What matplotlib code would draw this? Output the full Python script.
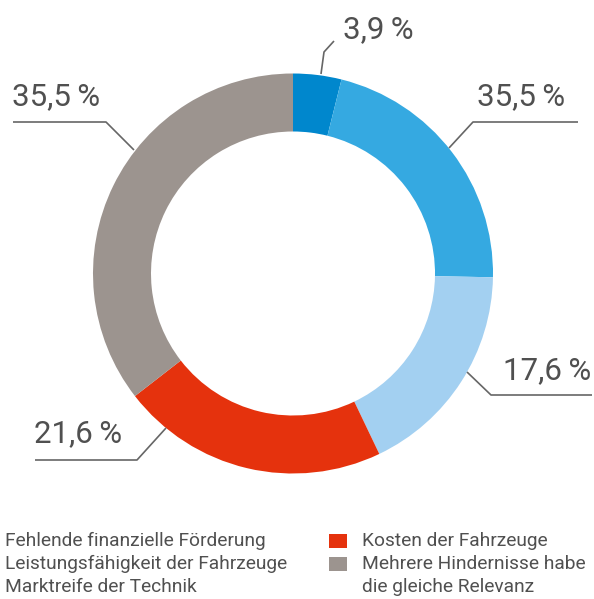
import matplotlib.pyplot as plt
from matplotlib.patches import Rectangle

# slice shares as drawn (clockwise from top) and the printed labels
shares = [3.9, 21.4, 17.6, 21.6, 35.5]
labels = ['3,9\u2009%', '35,5\u2009%', '17,6\u2009%', '21,6\u2009%', '35,5\u2009%']
colors = ['#0087cd', '#35a9e1', '#a3d0f1', '#e5320d', '#9c948f']

legend_left = ['Fehlende finanzielle Förderung',
               'Leistungsfähigkeit der Fahrzeuge',
               'Marktreife der Technik']
legend_right = ['Kosten der Fahrzeuge',
                'Mehrere Hindernisse habe',
                'die gleiche Relevanz']

H = 599
txt = '#505050'
font = ['Roboto', 'DejaVu Sans']

fig = plt.figure(figsize=(5.94, 5.99), dpi=100)
ax = fig.add_axes([0, 0, 1, 1])

ax.pie(shares, colors=colors, startangle=90, counterclock=False,
       center=(293, H - 273.5), radius=200,
       wedgeprops=dict(width=58, linewidth=0))
ax.set_xlim(0, 594)
ax.set_ylim(0, H)
ax.set_aspect('equal')
ax.axis('off')

# leader lines (pixel coords, y from top) and label positions
leaders = [
    [(321, 74), (324, 52), (334, 41)],
    [(449, 148), (473, 122), (578, 122)],
    [(467, 372), (491, 395), (592, 395)],
    [(166, 428), (137, 460), (35, 460)],
    [(134, 150), (106, 122), (13, 122)],
]
label_pos = [(343, 30, 'left'), (477, 97, 'left'), (591, 371, 'right'),
             (34, 434, 'left'), (12, 97, 'left')]

for pts, (x, y, ha), lab in zip(leaders, label_pos, labels):
    xs = [p[0] for p in pts]
    ys = [H - p[1] for p in pts]
    ax.plot(xs, ys, color='#666666', lw=1.2, solid_capstyle='butt')
    ax.text(x, H - y, lab, ha=ha, va='center', fontsize=22.5,
            color=txt, family=font)

# legend
for i, t in enumerate(legend_left):
    ax.text(5, H - (541 + i * 23), t, ha='left', va='center',
            fontsize=13.8, color=txt, family=font)

ax.add_patch(Rectangle((329, H - 548), 18, 14, color=colors[3], lw=0))
ax.add_patch(Rectangle((329, H - 571), 18, 14, color=colors[4], lw=0))
for i, t in enumerate(legend_right):
    ax.text(362, H - (541 + i * 23), t, ha='left', va='center',
            fontsize=13.8, color=txt, family=font)

fig.savefig('out.png', dpi=100)
